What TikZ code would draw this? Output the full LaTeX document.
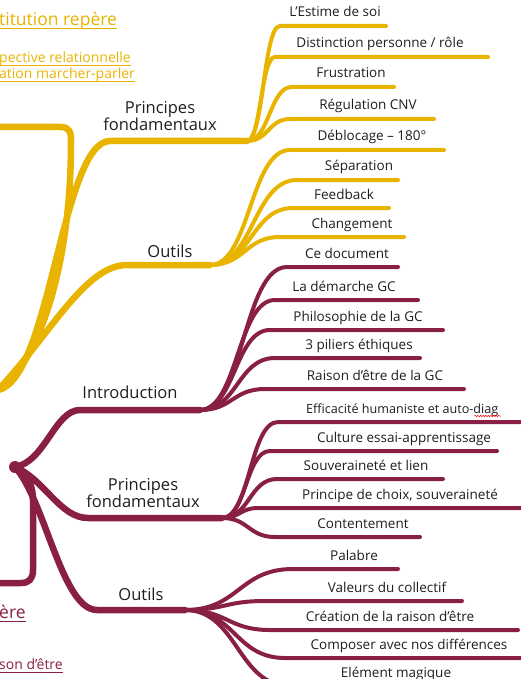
\documentclass[tikz,border=0pt]{standalone}
\usepackage{fontspec}
\setmainfont{Open Sans}
\usetikzlibrary{calc,decorations.pathmorphing}

\definecolor{gold}{HTML}{E8B400}
\definecolor{wine}{HTML}{8A1F45}
\definecolor{ink}{HTML}{1E1E1E}

\tikzset{
  trunk/.style={line width=6.5pt, line cap=round, line join=round},
  twig/.style={line width=4pt, line cap=round},
  leaf/.style={anchor=base, inner sep=0pt, text=ink, font=\fontsize{13.5}{15}\selectfont},
  topic/.style={align=center, inner sep=0pt, text=ink, font=\fontsize{16.5}{17}\selectfont},
  bigref/.style={anchor=base west, inner sep=0pt, font=\fontsize{17.5}{20}\selectfont},
  smallref/.style={anchor=base west, inner sep=0pt, font=\fontsize{14}{16}\selectfont},
}

% A sub-topic: curved twig from the junction, underline, and its label.
% #1 extra label options, #2 colour, #3 junction, #4 name,
% #5 start x, #6 line y, #7 end x, #8 label x, #9 label text
\newcommand\mapleaf[9][]{%
  \coordinate (#4-s) at (#5,#6);
  \coordinate (#4-e) at (#7,#6);
  \node[leaf,#1] (#4) at (#8,#6-9) {#9};
  \draw[twig,#2] let \p1=(#3), \p2=(#4-s), \n1={(\x1+\x2)/2} in
    (#3) .. controls (\n1,\y1) and (\n1,\y2) .. (#4-s) -- (#4-e);
}

% Underline below a reference label
\newcommand\refline[2]{%
  \draw[#1, line width=1pt] ([yshift=-3pt]#2.base west) -- ([yshift=-3pt]#2.base east);
}

\begin{document}
\begin{tikzpicture}[x=1pt,y=-1pt]
\useasboundingbox (0,0) rectangle (521,679);

% ---------------- gold group ----------------
\node[bigref, text=gold] (gref) at (-1,26) {titution repère};
\refline{gold}{gref}
\node[smallref, text=gold] (gref2) at (-1,63) {pective relationnelle};
\refline{gold}{gref2}
\node[smallref, text=gold] (gref3) at (-1,79) {ation marcher-parler};
\refline{gold}{gref3}

\coordinate (ghub) at (-2,390);
\coordinate (groot) at (0,127);
\draw[trunk,gold] (groot) -- (60,127) .. controls (70,127) and (71,132) .. (71,142)
  .. controls (71,285) and (30,372) .. (ghub);

\node[topic] (gp) at (160,116) {Principes\\fondamentaux};
\coordinate (gp-s) at (110,141);
\coordinate (gp-j) at (247,141);
\draw[trunk,gold] (ghub) .. controls (50,380) and (62,141) .. (gp-s) -- (gp-j);

\node[topic] (go) at (170,251) {Outils};
\coordinate (go-s) at (127,265);
\coordinate (go-j) at (210,265);
\draw[trunk,gold] (ghub) .. controls (50,335) and (85,265) .. (go-s) -- (go-j);

\mapleaf{gold}{gp-j}{g1}{280}{26}{386}{335}{L’Estime de soi}
\mapleaf{gold}{gp-j}{g2}{275}{57}{488}{380}{Distinction personne / rôle}
\mapleaf{gold}{gp-j}{g3}{292}{87}{394}{351}{Frustration}
\mapleaf{gold}{gp-j}{g4}{290}{119}{434}{368}{Régulation CNV}

\mapleaf{gold}{go-j}{g5}{290}{150}{444}{372}{Déblocage – 180°}
\mapleaf{gold}{go-j}{g6}{297}{180}{398}{359}{Séparation}
\mapleaf{gold}{go-j}{g7}{293}{208}{389}{344}{Feedback}
\mapleaf{gold}{go-j}{g8}{280}{237}{404}{352}{Changement}

% ---------------- wine group ----------------
\node[bigref, text=wine] (wref) at (-1,618) {ère};
\refline{wine}{wref}
\node[smallref, text=wine] (wref2) at (-1,669) {son d’être};
\refline{wine}{wref2}

\coordinate (whub) at (15,467);
\coordinate (wroot) at (0,583);
\draw[trunk,wine] (whub) .. controls (28,474) and (33,486) .. (33,500) -- (33,570)
  .. controls (33,579) and (29,583) .. (21,583) -- (wroot);

\node[topic] (wi) at (130,392) {Introduction};
\coordinate (wi-s) at (80,410);
\coordinate (wi-j) at (200,410);
\draw[trunk,wine] (whub) .. controls (45,462) and (55,410) .. (wi-s) -- (wi-j);

\node[topic] (wp) at (143,493) {Principes\\fondamentaux};
\coordinate (wp-s) at (88,518);
\coordinate (wp-j) at (222,518);
\draw[trunk,wine] (whub) .. controls (45,480) and (60,518) .. (wp-s) -- (wp-j);

\node[topic] (wo) at (141,594) {Outils};
\coordinate (wo-s) at (97,610);
\coordinate (wo-j) at (185,610);
\draw[trunk,wine] (whub) .. controls (45,500) and (62,610) .. (wo-s) -- (wo-j);

\fill[wine] (whub) circle (6pt);

\mapleaf{wine}{wi-j}{w1}{287}{267}{398}{347}{Ce document}
\mapleaf{wine}{wi-j}{w2}{275}{300}{418}{344}{La démarche GC}
\mapleaf{wine}{wi-j}{w3}{270}{330}{443}{358}{Philosophie de la GC}
\mapleaf{wine}{wi-j}{w4}{275}{358}{420}{359}{3 piliers éthiques}
\mapleaf{wine}{wi-j}{w5}{265}{389}{464}{375}{Raison d’être de la GC}

\mapleaf[anchor=base west, font=\fontsize{12.6}{15}\selectfont]{wine}{wp-j}{w6}{278}{422}{530}{306}{Efficacité humaniste et auto-diag}
\mapleaf{wine}{wp-j}{w7}{270}{451}{497}{404}{Culture essai-apprentissage}
\mapleaf{wine}{wp-j}{w8}{277}{479}{443}{366}{Souveraineté et lien}
\mapleaf{wine}{wp-j}{w9}{258}{508}{530}{400}{Principe de choix, souveraineté}
\mapleaf{wine}{wp-j}{w10}{275}{537}{420}{363}{Contentement}

\mapleaf{wine}{wo-j}{w11}{293}{569}{398}{354}{Palabre}
\mapleaf{wine}{wo-j}{w12}{265}{601}{462}{387}{Valeurs du collectif}
\mapleaf{wine}{wo-j}{w13}{270}{630}{518}{390}{Création de la raison d'être}
\mapleaf{wine}{wo-j}{w14}{285}{658}{530}{409}{Composer avec nos différences}
\mapleaf{wine}{wo-j}{w15}{290}{686}{470}{396}{Elément magique}

% spell-check squiggle under the cut-off word
\draw[red, line width=0.5pt, decorate, decoration={snake, amplitude=0.7pt, segment length=2.6pt}]
  (w6.base east) ++(-24,3) -- ++(26,0);

\end{tikzpicture}
\end{document}
